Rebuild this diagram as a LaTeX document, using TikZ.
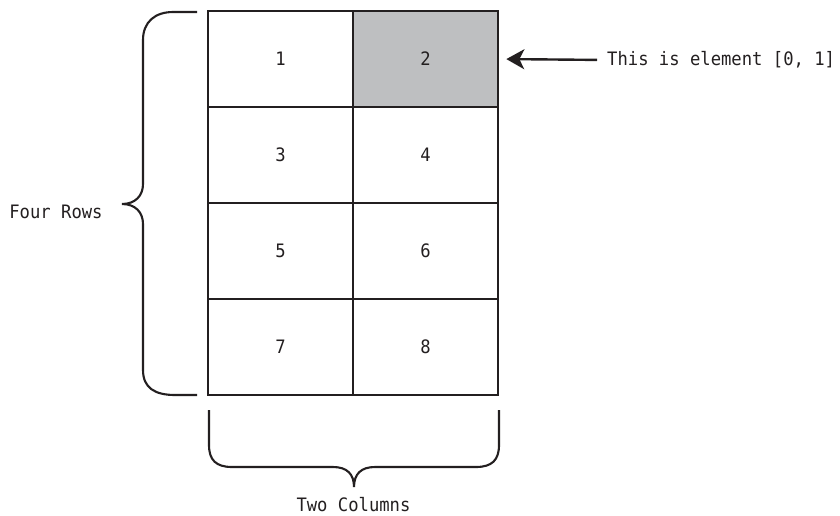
\documentclass[tikz,border=0pt]{standalone}
\usepackage{fontspec}
\setmonofont[FakeStretch=0.93]{DejaVu Sans Mono}
\usetikzlibrary{arrows.meta}
\definecolor{ink}{HTML}{231F20}
\definecolor{shade}{HTML}{BEBFC1}
\tikzset{
  cell/.style={draw=ink, line width=2.7pt, minimum width=145pt, minimum height=96pt, inner sep=0pt, font=\ttfamily\fontsize{18.5}{20}\selectfont, text=ink},
  lbl/.style={inner sep=0pt, font=\ttfamily\fontsize{18.5}{20}\selectfont, text=ink},
  brace/.style={draw=ink, line width=2.1pt},
  pointer/.style={draw=ink, line width=2.4pt, -{Stealth[length=18pt,width=20pt,inset=5pt]}}
}
\begin{document}
\begin{tikzpicture}[x=1pt,y=-1pt]
\useasboundingbox (0,0) rectangle (840,515);
\node[cell, fill=shade] (c2) at (425.5,59) {2};
\node[cell] (c1) at (280.5,59) {1};
\node[cell] (c3) at (280.5,155) {3};
\node[cell] (c4) at (425.5,155) {4};
\node[cell] (c5) at (280.5,251) {5};
\node[cell] (c6) at (425.5,251) {6};
\node[cell] (c7) at (280.5,347) {7};
\node[cell] (c8) at (425.5,347) {8};
\node[lbl, anchor=west] (elem) at (607,60) {This is element [0, 1]};
\draw[pointer, shorten <=10pt, shorten >=7pt] (elem.west) -- (c2.east);
\node[lbl] (rows) at (56,212) {Four Rows};
\node[lbl] (cols) at (353.5,505) {Two Columns};
\draw[brace] (197,12) -- (173,12) .. controls (155,12) and (143,22) .. (143,40)
  -- (143,184) .. controls (143,196) and (135,204) .. (122,204)
  .. controls (135,204) and (143,212) .. (143,224)
  -- (143,370) .. controls (143,388) and (155,395) .. (175,395) -- (197,395);
\draw[brace] (209,410) -- (209,445) .. controls (209,460) and (216,467) .. (232,467)
  -- (333,467) .. controls (347,467) and (354,474) .. (354,487)
  .. controls (354,474) and (361,467) .. (375,467)
  -- (476,467) .. controls (492,467) and (499,460) .. (499,445) -- (499,410);
\end{tikzpicture}
\end{document}
